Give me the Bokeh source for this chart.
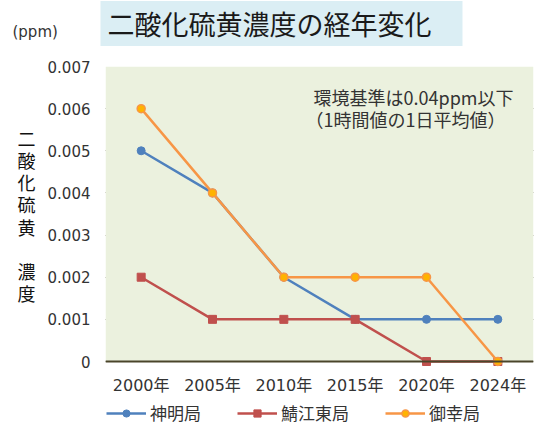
from bokeh.plotting import figure
from bokeh.models import Legend, LegendItem, FixedTicker, Range1d, Label, BoxAnnotation
from bokeh.embed import file_html
from bokeh.resources import INLINE

years = ["2000年", "2005年", "2010年", "2015年", "2020年", "2024年"]
shinmei = [0.005, 0.004, 0.002, 0.001, 0.001, 0.001]
sabae_higashi = [0.002, 0.001, 0.001, 0.001, 0.0, 0.0]
miyuki = [0.006, 0.004, 0.002, 0.002, 0.002, 0.0]
y_ticks = [0, 0.001, 0.002, 0.003, 0.004, 0.005, 0.006, 0.007]
y_tick_labels = ["0", "0.001", "0.002", "0.003", "0.004", "0.005", "0.006", "0.007"]
series_names = ["神明局", "鯖江東局", "御幸局"]

title_text = "二酸化硫黄濃度の経年変化"
unit_text = "(ppm)"
y_label_text = "二\n酸\n化\n硫\n黄\n\n濃\n度"
note_line1 = "環境基準は0.04ppm以下"
note_line2 = "（1時間値の1日平均値）"

CJK = "Noto Sans CJK JP"
NUM = "'DejaVu Sans', 'Noto Sans CJK JP'"
GRID = "#4A452A"
TXT = "#333333"
Y_MAX = y_ticks[-1]
Y_MIN = -Y_MAX * 64 / 295   # room under the axis for tick labels and legend

p = figure(width=536, height=425, x_range=years, y_range=Range1d(Y_MIN, Y_MAX),
           output_backend="svg", toolbar_location=None,
           min_border_left=105, min_border_right=3, min_border_top=66, min_border_bottom=0)
p.title.visible = False
p.background_fill_color = "white"
p.border_fill_color = "white"
p.outline_line_color = None
p.add_layout(BoxAnnotation(bottom=0, top=Y_MAX, fill_color="#EBF1DE", fill_alpha=1,
                           line_color=None, level="underlay"))
p.xgrid.grid_line_color = None
p.ygrid.ticker = FixedTicker(ticks=y_ticks)
p.ygrid.grid_line_color = GRID
p.ygrid.grid_line_width = 1

p.yaxis.ticker = FixedTicker(ticks=y_ticks)
p.yaxis.major_label_overrides = {t: l for t, l in zip(y_ticks, y_tick_labels)}
p.yaxis.axis_line_color = None
p.yaxis.major_tick_line_color = None
p.yaxis.minor_tick_line_color = None
p.yaxis.major_tick_out = 0
p.yaxis.major_tick_in = 0
p.yaxis.minor_tick_out = 0
p.yaxis.major_label_standoff = 15
p.yaxis.major_label_text_font = NUM
p.yaxis.major_label_text_font_size = "15px"
p.yaxis.major_label_text_color = TXT

p.xaxis.fixed_location = 0
p.xaxis.axis_line_color = GRID
p.xaxis.axis_line_width = 2
p.xaxis.major_tick_line_color = None
p.xaxis.minor_tick_line_color = None
p.xaxis.major_tick_out = 0
p.xaxis.major_tick_in = 0
p.xaxis.major_label_standoff = 14
p.xaxis.major_label_text_font = NUM
p.xaxis.major_label_text_font_size = "16px"
p.xaxis.major_label_text_color = TXT

l1 = p.line(years, shinmei, line_color="#4F81BD", line_width=2.5)
m1 = p.scatter(years, shinmei, marker="circle", size=8, fill_color="#4F81BD", line_color="#4F81BD")
l2 = p.line(years, sabae_higashi, line_color="#C0504D", line_width=2.5)
m2 = p.scatter(years, sabae_higashi, marker="square", size=8, fill_color="#C0504D", line_color="#C0504D")
l3 = p.line(years, miyuki, line_color="#F79646", line_width=2.5)
m3 = p.scatter(years, miyuki, marker="circle", size=8, fill_color="#FFB300", line_color="#F79646", line_width=1.5)

legend = Legend(items=[LegendItem(label=series_names[0], renderers=[l1, m1]),
                       LegendItem(label=series_names[1], renderers=[l2, m2]),
                       LegendItem(label=series_names[2], renderers=[l3, m3])],
                orientation="horizontal", location=(1, 0),
                padding=0, margin=0, spacing=36, glyph_width=40, glyph_height=18,
                label_height=18, label_standoff=4, border_line_color=None,
                background_fill_alpha=0,
                label_text_font=CJK, label_text_font_size="17px", label_text_color=TXT)
p.add_layout(legend, "center")

# notes inside the plot area
p.add_layout(Label(x=208, y=329, x_units="screen", y_units="screen", text=note_line1,
                   text_align="left", text_baseline="middle", text_font=CJK,
                   text_font_size="18px", text_color=TXT))
p.add_layout(Label(x=200, y=307, x_units="screen", y_units="screen", text=note_line2,
                   text_align="left", text_baseline="middle", text_font=CJK,
                   text_font_size="18px", text_color=TXT))

# title box and unit above the plot area
p.add_layout(Label(x=-5, y=43, x_units="screen", y_units="screen", text=title_text,
                   text_align="left", text_baseline="middle", text_font=CJK,
                   text_font_size="27px", text_color="#1a1a1a",
                   background_fill_color="#DBEEF4",
                   padding=dict(left=7, right=31, top=3, bottom=3)), "above")
p.add_layout(Label(x=-93, y=-10, x_units="screen", y_units="screen", text=unit_text,
                   text_align="left", text_baseline="middle", text_font="DejaVu Sans",
                   text_font_size="15px", text_color=TXT), "above")

# stacked vertical axis title
p.add_layout(Label(x=0, y=210, x_units="screen", y_units="screen", text=y_label_text,
                   text_align="center", text_baseline="middle", text_font=CJK,
                   text_font_size="18px", text_color="#111111", text_line_height=0.85), "left")

open("out.html", "w").write(file_html(p, INLINE))
